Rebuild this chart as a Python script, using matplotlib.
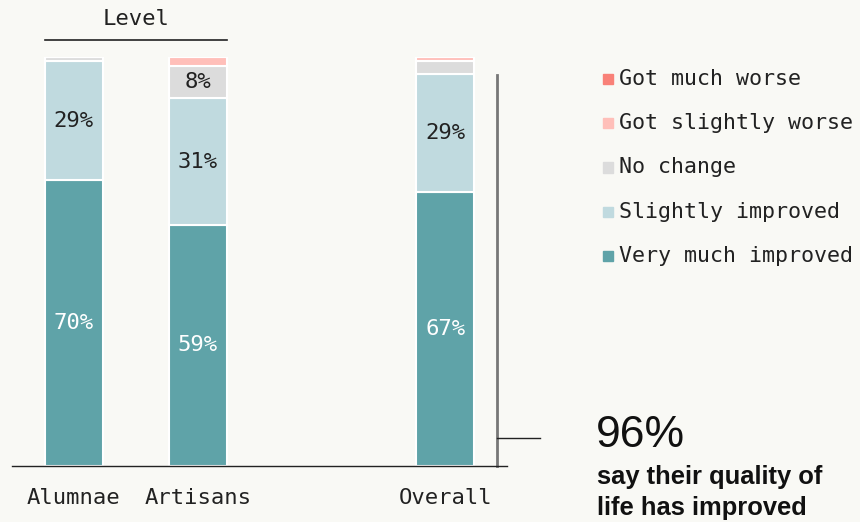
import matplotlib.pyplot as plt
from matplotlib.patches import Rectangle

GROUPS = ["Alumnae", "Artisans", "Overall"]
POSITIONS = [0, 1, 3]

CATEGORIES = ["Very much improved", "Slightly improved", "No change",
              "Got slightly worse", "Got much worse"]
COLORS = ["#5fa3a8", "#c0dadf", "#dcdcdc", "#ffbfb9", "#f98178"]

VERY_MUCH = [70, 59, 67]
SLIGHTLY = [29, 31, 29]
NO_CHANGE = [1, 8, 3]
SLIGHTLY_WORSE = [0, 2, 1]
MUCH_WORSE = [0, 0, 0]

IMPROVED_TOTAL = "96%"

BG = "#f9f9f5"
MONO = "DejaVu Sans Mono"
SANS = "Liberation Sans"

fig = plt.figure(figsize=(8.6, 5.22), dpi=100, facecolor=BG)
ax = fig.add_axes([12 / 860, 1 - 466 / 522, 495 / 860, 408.6 / 522])
ax.set_facecolor(BG)

series = [VERY_MUCH, SLIGHTLY, NO_CHANGE, SLIGHTLY_WORSE, MUCH_WORSE]
bottom = [0, 0, 0]
for name, vals, color in zip(CATEGORIES, series, COLORS):
    ax.bar(POSITIONS, vals, bottom=bottom, width=0.47, color=color,
           edgecolor="white", linewidth=1.5, label=name)
    for x, v, b in zip(POSITIONS, vals, bottom):
        if v >= 5:
            ax.text(x, b + v / 2, f"{v}%", ha="center", va="center",
                    fontsize=16, family=MONO,
                    color="white" if color == COLORS[0] else "#222222")
    bottom = [b + v for b, v in zip(bottom, vals)]

ax.set_xlim(-0.5, 3.5)
ax.set_ylim(0, 100)
for s in ["left", "right", "top"]:
    ax.spines[s].set_visible(False)
ax.spines["bottom"].set_color("#222222")
ax.spines["bottom"].set_linewidth(1)
ax.set_yticks([])
ax.set_xticks(POSITIONS)
ax.set_xticklabels(GROUPS, family=MONO, fontsize=16, color="#222222")
ax.tick_params(axis="x", length=0, pad=16)

# group bracket
ax.plot([-0.235, 1.235], [104.3, 104.3], color="#222222", lw=1.2, clip_on=False)
ax.text(0.5, 109.4, "Level", ha="center", va="center", family=MONO,
        fontsize=16, color="#222222", clip_on=False)

# callout lines
ax.plot([3.417, 3.417], [0, 95.7], color="#777777", lw=2, clip_on=False)
ax.plot([3.417, 3.77], [6.85, 6.85], color="#222222", lw=1, clip_on=False)

# legend drawn by hand
for i, (name, color) in enumerate(zip(CATEGORIES[::-1], COLORS[::-1])):
    yc = 79 + i * 44.25
    fig.patches.append(Rectangle((603 / 860, 1 - (yc + 5) / 522), 10 / 860, 10 / 522,
                                 transform=fig.transFigure, color=color))
    fig.text(619 / 860, 1 - yc / 522, name, ha="left", va="center",
             family=MONO, fontsize=15.6, color="#222222")

fig.text(596 / 860, 1 - 447 / 522, IMPROVED_TOTAL, ha="left", va="baseline",
         family=SANS, fontsize=32, color="#111111")
fig.text(597 / 860, 1 - 484 / 522, "say their quality of", ha="left", va="baseline",
         family=SANS, fontsize=18.4, fontweight="bold", color="#111111")
fig.text(597 / 860, 1 - 515 / 522, "life has improved", ha="left", va="baseline",
         family=SANS, fontsize=18.4, fontweight="bold", color="#111111")

fig.savefig("out.png", dpi=100, facecolor=BG)
